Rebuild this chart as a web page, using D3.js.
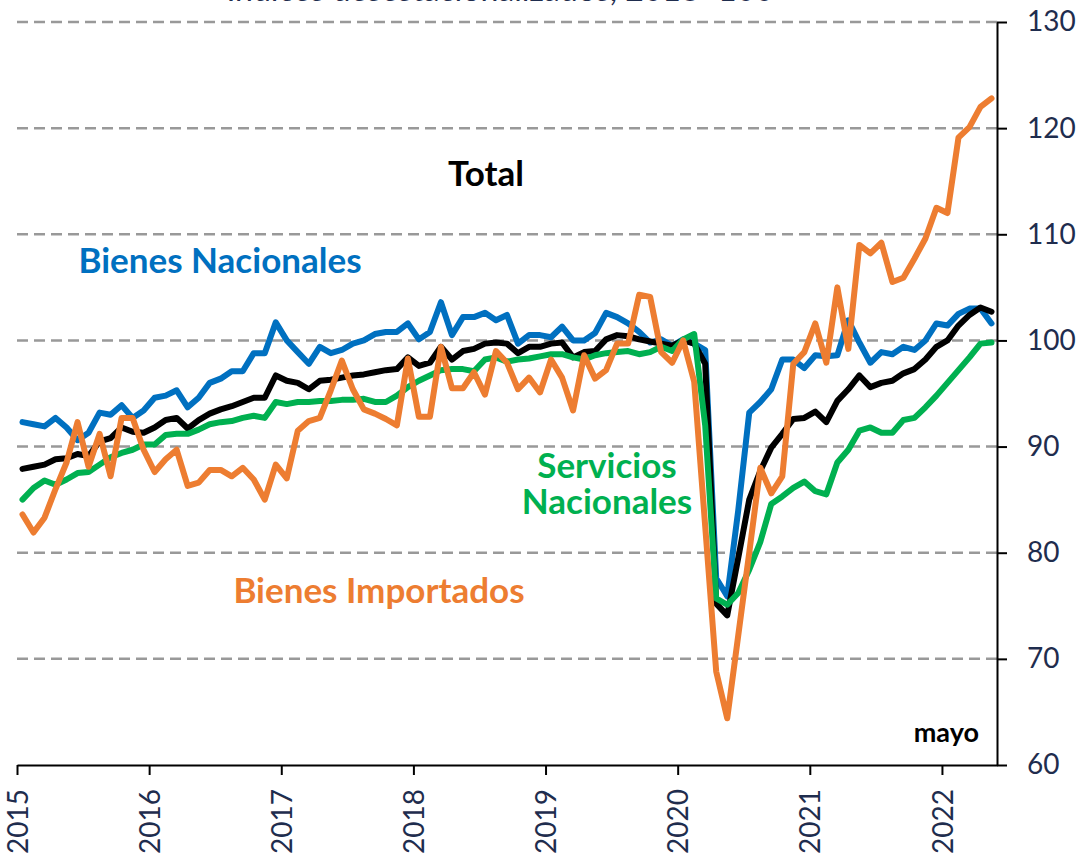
<!DOCTYPE html>
<html>
<head>
<meta charset="utf-8">
<script src="https://cdn.jsdelivr.net/npm/d3@7"></script>
<style>
  body { margin: 0; background: #fff; }
  text { font-family: Lato, "Open Sans", sans-serif; }
</style>
</head>
<body>
<script>
// monthly, ene 2015 .. may 2022
const years = ['2015', '2016', '2017', '2018', '2019', '2020', '2021', '2022']

const total = [
  87.9, 88.1, 88.3, 88.8, 88.9, 89.3, 89.1, 90.5, 90.8, 91.8, 91.4, 91.3,
  91.8, 92.5, 92.7, 91.7, 92.5, 93.1, 93.5, 93.8, 94.2, 94.6, 94.6, 96.7,
  96.2, 96.0, 95.4, 96.2, 96.3, 96.5, 96.7, 96.8, 97.0, 97.2, 97.3, 98.4,
  97.6, 97.9, 99.4, 98.2, 99.0, 99.2, 99.7, 99.8, 99.7, 98.8, 99.4, 99.4,
  99.7, 99.8, 98.4, 98.9, 99.0, 100.1, 100.5, 100.4, 100.1, 99.9, 99.7, 99.5,
  100.0, 99.7, 97.8, 75.2, 74.1, 79.5, 85.0, 87.7, 89.9, 91.2, 92.6, 92.7,
  93.3, 92.3, 94.3, 95.4, 96.7, 95.6, 96.0, 96.2, 96.9, 97.3, 98.2, 99.4,
  100.0, 101.4, 102.4, 103.1, 102.7
]

const bienesNac = [
  92.3, 92.1, 91.9, 92.7, 91.8, 90.6, 91.3, 93.2, 93.0, 93.9, 92.7, 93.4,
  94.6, 94.8, 95.3, 93.7, 94.6, 96.0, 96.4, 97.1, 97.1, 98.8, 98.8, 101.7,
  100.0, 98.9, 97.8, 99.4, 98.8, 99.1, 99.7, 100.0, 100.6, 100.8, 100.8, 101.6,
  100.1, 100.8, 103.6, 100.5, 102.2, 102.2, 102.6, 101.9, 102.4, 99.7, 100.5, 100.5,
  100.3, 101.3, 100.0, 100.0, 100.7, 102.6, 102.2, 101.6, 100.8, 99.8, 100.1, 99.5,
  100.1, 99.7, 99.1, 77.6, 75.9, 84.0, 93.2, 94.2, 95.4, 98.2, 98.2, 97.4,
  98.6, 98.5, 98.6, 101.9, 99.8, 97.9, 98.9, 98.7, 99.4, 99.1, 100.0, 101.6,
  101.4, 102.5, 103.0, 103.0, 101.6
]

const serviciosNac = [
  85.0, 86.1, 86.8, 86.4, 86.9, 87.5, 87.6, 88.3, 89.0, 89.4, 89.7, 90.2,
  90.2, 91.1, 91.2, 91.2, 91.6, 92.1, 92.3, 92.4, 92.7, 92.9, 92.7, 94.2,
  94.0, 94.2, 94.2, 94.3, 94.3, 94.4, 94.4, 94.5, 94.2, 94.2, 94.8, 95.6,
  96.2, 96.7, 97.2, 97.3, 97.3, 97.1, 98.2, 98.4, 98.0, 98.2, 98.3, 98.5,
  98.7, 98.7, 98.4, 98.2, 98.6, 98.8, 98.9, 99.0, 98.7, 98.9, 99.4, 99.0,
  100.1, 100.6, 92.0, 75.7, 75.1, 76.2, 78.4, 81.0, 84.6, 85.3, 86.1, 86.7,
  85.8, 85.5, 88.5, 89.7, 91.5, 91.8, 91.3, 91.3, 92.5, 92.7, 93.7, 94.8,
  96.0, 97.2, 98.4, 99.7, 99.8
]

const bienesImp = [
  83.6, 81.9, 83.3, 86.0, 88.5, 92.3, 88.1, 91.2, 87.2, 92.7, 92.7, 89.7,
  87.6, 88.8, 89.7, 86.3, 86.6, 87.8, 87.8, 87.2, 88.0, 86.9, 85.0, 88.3,
  87.0, 91.5, 92.4, 92.7, 95.3, 98.1, 95.4, 93.5, 93.1, 92.6, 92.0, 98.3,
  92.8, 92.8, 99.4, 95.5, 95.5, 97.0, 94.9, 99.0, 97.9, 95.4, 96.5, 95.1,
  98.2, 96.5, 93.4, 98.6, 96.4, 97.2, 99.7, 99.7, 104.3, 104.1, 98.9, 97.9,
  100.0, 96.1, 82.5, 68.8, 64.4, 72.2, 80.0, 88.0, 85.6, 87.2, 97.8, 98.9,
  101.6, 97.9, 105.0, 99.2, 109.0, 108.2, 109.2, 105.5, 105.9, 107.7, 109.6, 112.5,
  112.0, 119.1, 120.1, 122.0, 122.8
]

const yTicks = [60, 70, 80, 90, 100, 110, 120, 130]

const WIDTH = 1081
const HEIGHT = 853
const margin = { top: 22, bottom: 88, left: 17, right: 84 }

const navy = '#1f2d4e'

svg = d3.select('body').append('svg')
    .attr('width', WIDTH)
    .attr('height', HEIGHT);

x_scale = d3.scaleLinear()
    .domain([0, total.length])
    .range([margin.left, WIDTH - margin.right]);

y_scale = d3.scaleLinear()
    .domain([60, 130])
    .range([HEIGHT - margin.bottom, margin.top]);

// title, mostly cut off at the top edge (as in the original)
svg.append('text')
    .attr('x', 500)
    .attr('y', 1)
    .attr('text-anchor', 'middle')
    .attr('fill', navy)
    .attr('font-size', 32)
    .text('Índices desestacionalizados, 2018=100');

// dashed grid
svg.append('g')
    .selectAll('line')
    .data(yTicks.filter(d => d > 60))
    .join('line')
        .attr('x1', x_scale(0))
        .attr('x2', x_scale(total.length))
        .attr('y1', d => y_scale(d))
        .attr('y2', d => y_scale(d))
        .attr('stroke', '#999')
        .attr('stroke-width', 2.5)
        .attr('stroke-dasharray', '11,6');

// x axis: a tick at the start of every year
let xAxis = svg.append('g')
    .attr('transform', `translate(0,${y_scale(60)})`)
    .call(d3.axisBottom(x_scale)
        .tickValues(years.map((y, i) => i * 12))
        .tickFormat((d, i) => years[i])
        .tickSize(10)
        .tickSizeOuter(0));

xAxis.select('.domain').attr('stroke', '#000').attr('stroke-width', 2);
xAxis.selectAll('.tick line').attr('stroke', '#000').attr('stroke-width', 2);
xAxis.selectAll('.tick text')
    .attr('fill', navy)
    .attr('font-size', 28)
    .attr('text-anchor', 'end')
    .attr('transform', 'rotate(-90)')
    .attr('x', -24)
    .attr('y', 0)
    .attr('dy', '0.36em');

// y axis on the right
let yAxis = svg.append('g')
    .attr('transform', `translate(${x_scale(total.length)},0)`)
    .call(d3.axisRight(y_scale)
        .tickValues(yTicks)
        .tickSize(10)
        .tickPadding(20)
        .tickSizeOuter(0));

yAxis.select('.domain').attr('stroke', '#000').attr('stroke-width', 2);
yAxis.selectAll('.tick line').attr('stroke', '#000').attr('stroke-width', 2);
yAxis.selectAll('.tick text')
    .attr('fill', navy)
    .attr('font-size', 28);

// series
const series = [
    { name: 'bienesNac', values: bienesNac, color: '#0070c0' },
    { name: 'total', values: total, color: '#000000' },
    { name: 'serviciosNac', values: serviciosNac, color: '#00b050' },
    { name: 'bienesImp', values: bienesImp, color: '#ed7d31' }
]

let line = d3.line()
    .x((d, i) => x_scale(i + 0.5))
    .y(d => y_scale(d));

svg.append('g')
    .selectAll('path')
    .data(series)
    .join('path')
        .attr('d', d => line(d.values))
        .attr('fill', 'none')
        .attr('stroke', d => d.color)
        .attr('stroke-width', 6)
        .attr('stroke-linejoin', 'round')
        .attr('stroke-linecap', 'round');

// labels (each one text, extra lines as tspans)
const labels = [
    { lines: ['Total'], x: 486, y: 186, color: '#000000' },
    { lines: ['Bienes Nacionales'], x: 220, y: 273, color: '#0070c0' },
    { lines: ['Servicios', 'Nacionales'], x: 607, y: 478, color: '#00b050' },
    { lines: ['Bienes Importados'], x: 379, y: 603, color: '#ed7d31' }
]

svg.append('g')
    .selectAll('text')
    .data(labels)
    .join('text')
        .attr('x', d => d.x)
        .attr('y', d => d.y)
        .attr('text-anchor', 'middle')
        .attr('font-weight', 'bold')
        .attr('font-size', 35)
        .attr('fill', d => d.color)
    .selectAll('tspan')
    .data(d => d.lines.map((t, i) => ({ t: t, i: i, x: d.x })))
    .join('tspan')
        .attr('x', d => d.x)
        .attr('dy', d => d.i == 0 ? 0 : 36)
        .text(d => d.t);

svg.append('text')
    .attr('x', 979)
    .attr('y', 742)
    .attr('text-anchor', 'end')
    .attr('font-weight', 'bold')
    .attr('font-size', 27)
    .text('mayo');
</script>
</body>
</html>
